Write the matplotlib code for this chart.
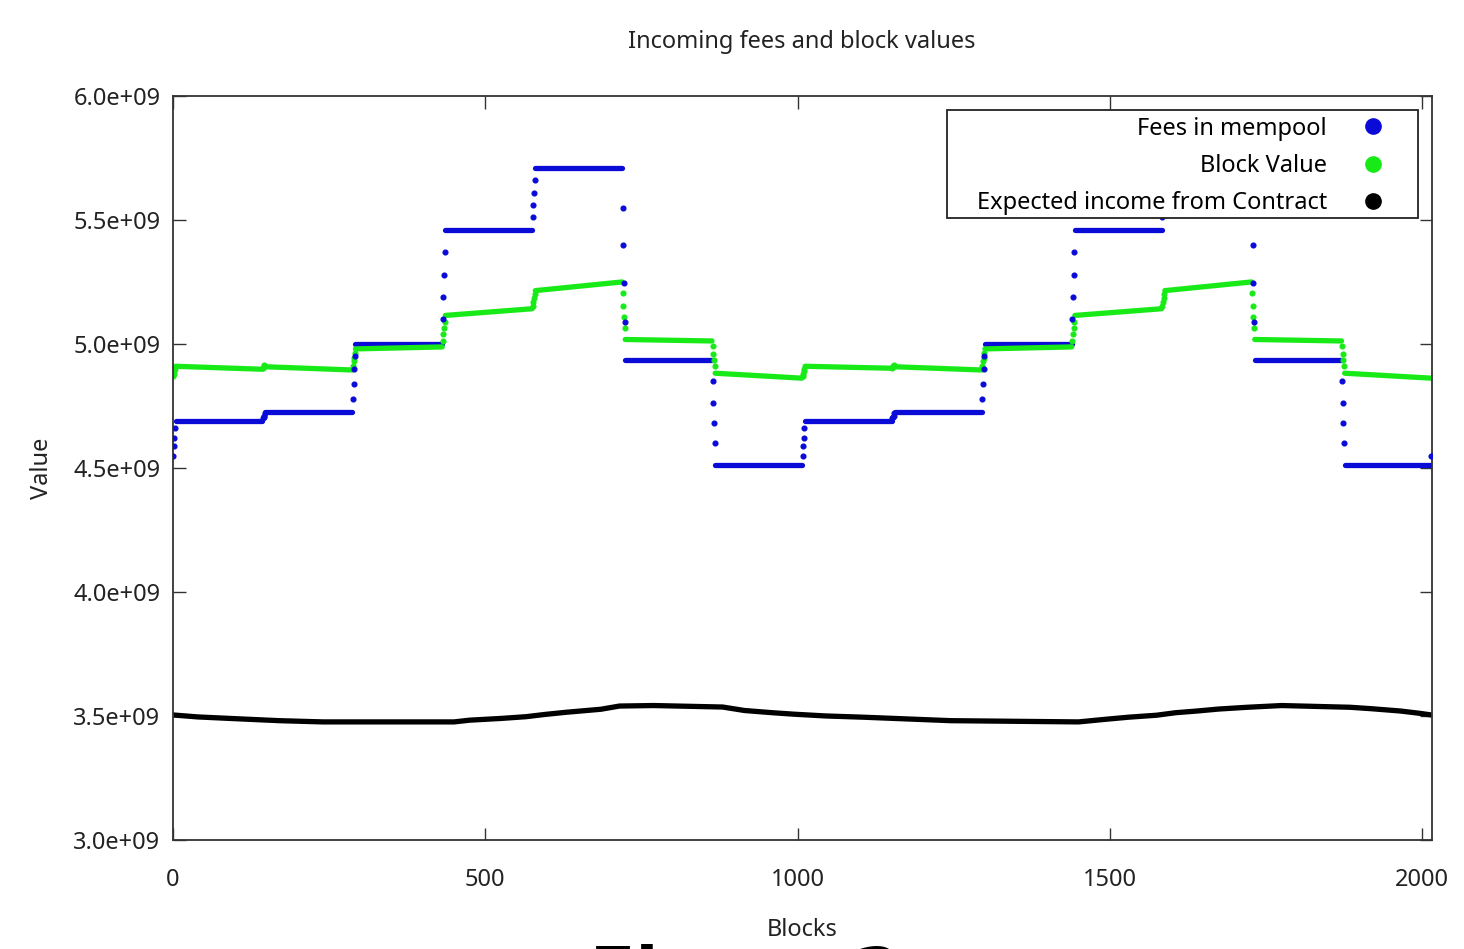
import numpy as np
import matplotlib
matplotlib.use("Agg")
import matplotlib.pyplot as plt
from matplotlib.lines import Line2D
from matplotlib.patches import Rectangle
from matplotlib.ticker import FuncFormatter, MultipleLocator

plt.rcParams['font.family'] = ['Noto Sans', 'DejaVu Sans']

BLUE = '#0b0bd8'
GREEN = '#18ea18'
TXT = '#222222'
FS = 17

# one step per day (144 blocks), two weeks shown
day_start = [0, 144, 288, 432, 576, 720, 864, 1008, 1152, 1296, 1440, 1584, 1728, 1872]
day_len = 144

# fees in mempool: flat level per day, plus the few ramp dots at each day change
fee_levels = [4.69, 4.725, 5.00, 5.46, 5.71, 4.935, 4.51,
              4.69, 4.725, 5.00, 5.46, 5.71, 4.935, 4.51]
fee_ramps = [[4.55, 4.59, 4.62, 4.66],
             [4.70, 4.705, 4.71, 4.72],
             [4.78, 4.84, 4.90, 4.95],
             [5.10, 5.19, 5.28, 5.37],
             [5.51, 5.56, 5.61, 5.66],
             [5.55, 5.40, 5.245, 5.09],
             [4.85, 4.76, 4.68, 4.60],
             [4.55, 4.59, 4.62, 4.66],
             [4.70, 4.705, 4.71, 4.72],
             [4.78, 4.84, 4.90, 4.95],
             [5.10, 5.19, 5.28, 5.37],
             [5.51, 5.56, 5.61, 5.66],
             [5.55, 5.40, 5.245, 5.09],
             [4.85, 4.76, 4.68, 4.60]]
fee_last_block = 2015
fee_last_value = 4.55

# block value: start / end of each day plus ramp dots
value_start = [4.91, 4.908, 4.98, 5.115, 5.215, 5.018, 4.882,
               4.91, 4.908, 4.98, 5.115, 5.215, 5.018, 4.882]
value_end = [4.898, 4.895, 4.988, 5.142, 5.25, 5.012, 4.862,
             4.902, 4.895, 4.988, 5.142, 5.25, 5.012, 4.862]
value_ramps = [[4.87, 4.88, 4.89, 4.90],
               [4.905, 4.91, 4.915, 4.912],
               [4.91, 4.93, 4.945, 4.965],
               [5.01, 5.04, 5.065, 5.09],
               [5.155, 5.17, 5.185, 5.20],
               [5.205, 5.155, 5.11, 5.063],
               [4.99, 4.96, 4.935, 4.91],
               [4.87, 4.88, 4.89, 4.90],
               [4.905, 4.91, 4.915, 4.912],
               [4.91, 4.93, 4.945, 4.965],
               [5.01, 5.04, 5.065, 5.09],
               [5.155, 5.17, 5.185, 5.20],
               [5.205, 5.155, 5.11, 5.063],
               [4.99, 4.96, 4.935, 4.91]]

# expected income from contract
contract_blocks = [0, 40, 100, 170, 240, 450, 475, 525, 565, 595, 630, 685, 715, 770,
                   880, 915, 960, 995, 1045, 1105, 1175, 1245, 1450, 1495, 1530, 1575,
                   1605, 1640, 1675, 1720, 1775, 1885, 1920, 1965, 1995, 2015]
contract_values = [3.504, 3.496, 3.489, 3.481, 3.476, 3.476, 3.483, 3.490, 3.497, 3.506,
                   3.515, 3.527, 3.540, 3.542, 3.536, 3.522, 3.513, 3.507, 3.500, 3.495,
                   3.488, 3.481, 3.476, 3.487, 3.495, 3.503, 3.513, 3.520, 3.528, 3.535,
                   3.542, 3.535, 3.529, 3.520, 3.511, 3.504]

E9 = 1e9

fig = plt.figure(figsize=(14.64, 9.49), dpi=100)
ax = fig.add_axes([0.1182, 0.1149, 0.8600, 0.7840])

lw = 3.8
for i, s in enumerate(day_start):
    rx = s + np.arange(4)
    ax.plot([s + 4, s + day_len - 1], [fee_levels[i] * E9] * 2, color=BLUE, lw=lw,
            solid_capstyle='round', zorder=2)
    ax.plot(rx, np.array(fee_ramps[i]) * E9, 'o', ms=3.4, color=BLUE, zorder=3)
ax.plot([fee_last_block], [fee_last_value * E9], 'o', ms=3.4, color=BLUE, zorder=3)

for i, s in enumerate(day_start):
    rx = s + np.arange(4)
    ax.plot([s + 4, s + day_len - 1], [value_start[i] * E9, value_end[i] * E9], color=GREEN,
            lw=lw, solid_capstyle='round', zorder=2)
    ax.plot(rx, np.array(value_ramps[i]) * E9, 'o', ms=3.4, color=GREEN, zorder=2.5)

ax.plot(contract_blocks, np.array(contract_values) * E9, color='black', lw=lw,
        solid_capstyle='round', zorder=2)

ax.set_xlim(0, 2016)
ax.set_ylim(3.0e9, 6.0e9)
ax.xaxis.set_major_locator(MultipleLocator(500))
ax.yaxis.set_major_locator(MultipleLocator(0.5e9))
ax.yaxis.set_major_formatter(FuncFormatter(lambda v, p: f"{v:.1e}"))
ax.tick_params(direction='in', top=True, right=True, length=9, width=1.0,
               labelsize=FS, colors='#333333', labelcolor=TXT)
ax.tick_params(axis='x', pad=20)
ax.tick_params(axis='y', pad=9)
for sp in ax.spines.values():
    sp.set_linewidth(1.3)
    sp.set_color('#333333')

fig.text(801.5 / 1464, 1 - 42 / 949, 'Incoming fees and block values', ha='center',
         va='center', fontsize=FS, color=TXT)
fig.text(802 / 1464, 1 - 930 / 949, 'Blocks', ha='center', va='center', fontsize=FS, color=TXT)
fig.text(42 / 1464, 1 - 468 / 949, 'Value', ha='center', va='center', rotation=90,
         fontsize=FS, color=TXT)

# legend box drawn by hand so the padding matches
ax.add_patch(Rectangle((0.6148, 0.8360), 0.3741, 0.1452, transform=ax.transAxes,
                       facecolor='white', edgecolor='#222222', lw=1.3, zorder=4.5))
handles = [Line2D([], [], ls='none', marker='o', ms=11, color=c) for c in (BLUE, GREEN, 'black')]
labels = ['Fees in mempool', 'Block Value', 'Expected income from Contract']
ax.legend(handles, labels, loc='upper right', bbox_to_anchor=(0.9889, 0.9785),
          frameon=False, markerfirst=False, fontsize=FS, borderpad=0.2,
          handlelength=3.42, handletextpad=0.24, labelspacing=0.56, borderaxespad=0)

# caption of the source page, cut off at the bottom edge
fig.text(590 / 1464, 1 - 995 / 949, 'Figure 2', fontsize=48, fontweight='bold',
         family='DejaVu Sans', ha='left', va='baseline', color='black')

fig.savefig('out.png', dpi=100)
